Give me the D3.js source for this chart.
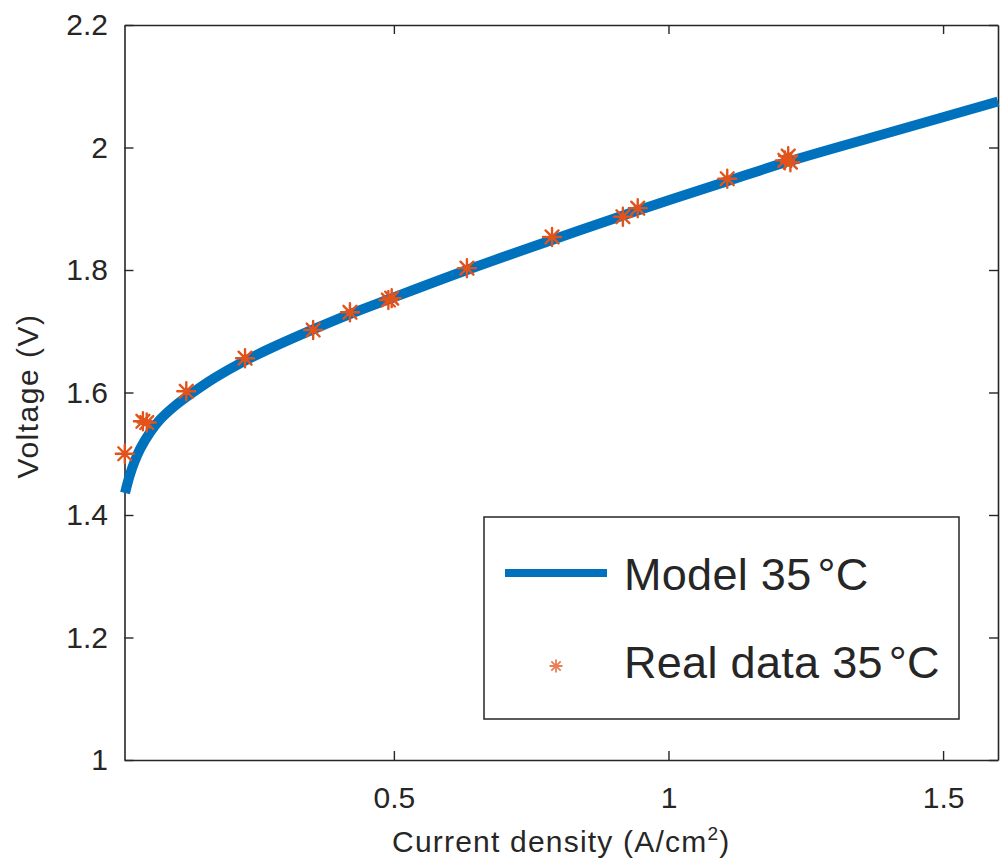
<!DOCTYPE html>
<html>
<head>
<meta charset="utf-8">
<script src="https://cdn.jsdelivr.net/npm/d3@7"></script>
<style>
  html, body { margin: 0; padding: 0; background: #fff; }
  svg { display: block; }
  text { font-family: "Liberation Sans", Arial, Helvetica, sans-serif; fill: #262626; }
</style>
</head>
<body>
<svg id="chart" width="1001" height="859"></svg>
<script>
// Polarisation curve: model vs. measured cell voltage at 35 °C
const modelJ = [0.0105, 0.0195, 0.0286, 0.038, 0.056, 0.0745, 0.101, 0.134, 0.174, 0.225,
                0.275, 0.353, 0.42, 0.493, 0.633, 0.788, 0.944, 1.107, 1.218, 1.42, 1.6];
const modelV = [1.436, 1.466, 1.489, 1.508, 1.535, 1.556, 1.578, 1.600, 1.624, 1.650,
                1.672, 1.703, 1.728, 1.753, 1.800, 1.849, 1.897, 1.945, 1.977, 2.029, 2.075];

const dataJ = [0.01, 0.043, 0.05, 0.122, 0.229, 0.353, 0.42, 0.49, 0.496, 0.633,
               0.788, 0.917, 0.944, 1.107, 1.212, 1.218, 1.222];
const dataV = [1.50, 1.553, 1.551, 1.602, 1.656, 1.702, 1.731, 1.751, 1.754, 1.803,
               1.854, 1.887, 1.901, 1.949, 1.979, 1.986, 1.976];

const xTicks = [0.5, 1, 1.5];
const xTickLabels = ["0.5", "1", "1.5"];
const yTicks = [1, 1.2, 1.4, 1.6, 1.8, 2, 2.2];
const yTickLabels = ["1", "1.2", "1.4", "1.6", "1.8", "2", "2.2"];

const seriesNames = ["Model 35", "Real data 35"];

const blue = "#0072BD";
const orange = "#E2531B";
const axisColor = "#262626";

const plotLeft = 124.5, plotRight = 998, plotTop = 25, plotBottom = 760;

const svg = d3.select("#chart");

const x = d3.scaleLinear().domain([0.0095, 1.6]).range([plotLeft, plotRight]);
const y = d3.scaleLinear().domain([1, 2.2]).range([plotBottom, plotTop]);

// Axes with inward ticks on all four sides
const tickLen = 9;
const fmtX = (d, i) => xTickLabels[i];
const fmtY = (d, i) => yTickLabels[i];

const gx = svg.append("g").attr("transform", `translate(0,${plotBottom})`)
  .call(d3.axisBottom(x).tickValues(xTicks).tickFormat(fmtX)
        .tickSizeInner(-tickLen).tickSizeOuter(0).tickPadding(26.5));
const gy = svg.append("g").attr("transform", `translate(${plotLeft},0)`)
  .call(d3.axisLeft(y).tickValues(yTicks).tickFormat(fmtY)
        .tickSizeInner(-tickLen).tickSizeOuter(0).tickPadding(16.5));
const gt = svg.append("g").attr("transform", `translate(0,${plotTop})`)
  .call(d3.axisTop(x).tickValues(xTicks).tickFormat("")
        .tickSizeInner(-tickLen).tickSizeOuter(0));
const gr = svg.append("g").attr("transform", `translate(${plotRight},0)`)
  .call(d3.axisRight(y).tickValues(yTicks).tickFormat("")
        .tickSizeInner(-tickLen).tickSizeOuter(0));

[gx, gy, gt, gr].forEach(g => {
  g.select(".domain").attr("stroke", axisColor).attr("stroke-width", 1.6);
  g.selectAll(".tick line").attr("stroke", axisColor).attr("stroke-width", 1.4);
  g.selectAll(".tick text").attr("font-size", 30).attr("fill", axisColor)
    .attr("font-family", "Liberation Sans, Arial, sans-serif");
});

// Model curve
const line = d3.line()
  .x((d, i) => x(modelJ[i]))
  .y((d, i) => y(modelV[i]))
  .curve(d3.curveCatmullRom.alpha(0.5));

svg.append("path")
  .datum(modelJ)
  .attr("d", line)
  .attr("fill", "none")
  .attr("stroke", blue)
  .attr("stroke-width", 10)
  .attr("stroke-linejoin", "round");

// Asterisk marker (plus + cross)
function starPath(r) {
  const d = r * 0.72;
  return `M${-r},0L${r},0M0,${-r}L0,${r}M${-d},${-d}L${d},${d}M${-d},${d}L${d},${-d}`;
}

svg.append("g")
  .selectAll("path.star")
  .data(dataJ)
  .join("path")
  .attr("class", "star")
  .attr("transform", (d, i) => `translate(${x(d)},${y(dataV[i])})`)
  .attr("d", starPath(9))
  .attr("fill", "none")
  .attr("stroke", orange)
  .attr("stroke-width", 2.4)
  .attr("stroke-linecap", "round");

// Legend
const legend = svg.append("g");
legend.append("rect")
  .attr("x", 484).attr("y", 517).attr("width", 475).attr("height", 202)
  .attr("fill", "#fff").attr("stroke", axisColor).attr("stroke-width", 1.5);

legend.append("line")
  .attr("x1", 505).attr("x2", 607).attr("y1", 573).attr("y2", 573)
  .attr("stroke", blue).attr("stroke-width", 8);

legend.append("path")
  .attr("transform", "translate(556,666)")
  .attr("d", starPath(6.5))
  .attr("fill", "none")
  .attr("stroke", orange)
  .attr("stroke-opacity", 0.75)
  .attr("stroke-width", 1.8);

const legendRows = [590, 678];
seriesNames.forEach((name, i) => {
  const t = legend.append("text")
    .attr("x", 624).attr("y", legendRows[i])
    .attr("font-size", 45).attr("letter-spacing", 0.3).attr("fill", "#111");
  t.append("tspan").text(name);
  t.append("tspan").attr("dx", 6).text("°C");
});

// Axis titles
const xt = svg.append("text")
  .attr("x", (plotLeft + plotRight) / 2).attr("y", 852)
  .attr("text-anchor", "middle").attr("font-size", 30)
  .attr("letter-spacing", 1.2);
xt.append("tspan").text("Current density (A/cm");
xt.append("tspan").attr("font-size", 19).attr("dy", -12).text("2");
xt.append("tspan").attr("dy", 12).text(")");

svg.append("text")
  .attr("transform", `translate(38,396) rotate(-90)`)
  .attr("text-anchor", "middle").attr("font-size", 30)
  .attr("letter-spacing", 1.5)
  .text("Voltage (V)");
</script>
</body>
</html>
